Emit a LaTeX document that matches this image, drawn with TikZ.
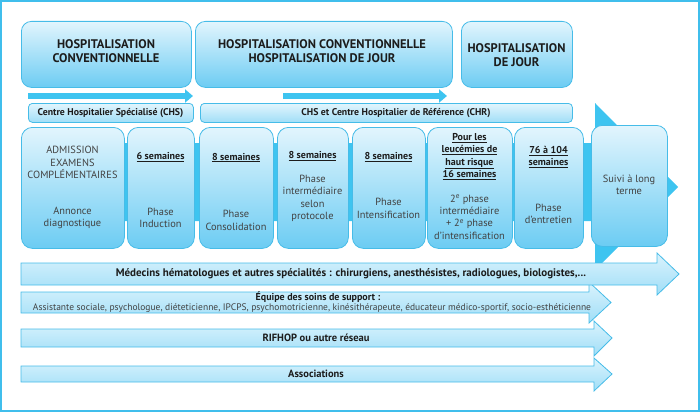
\documentclass[tikz,border=0pt]{standalone}
\usepackage{fontspec}
\setmainfont{PT Sans}
\usepackage{xcolor}
\usepackage{tikz}
\usetikzlibrary{
	arrows.meta,
	positioning
}
\definecolor{solidblue}{RGB}{62,196,240}
\definecolor{edgeblue}{RGB}{70,188,232}
\definecolor{framblue}{RGB}{64,190,236}
\definecolor{lightblue}{RGB}{226,245,253}
\definecolor{deepblue}{RGB}{108,204,243}
\definecolor{bandtop}{RGB}{218,243,253}
\definecolor{bandbot}{RGB}{160,222,247}
\definecolor{txtgrey}{RGB}{66,66,66}
\definecolor{txtdark}{RGB}{28,28,28}

\begin{document}
\begin{tikzpicture}[x=1pt, y=-1pt,
		hospbox/.style={draw=edgeblue, line width=0.8pt, rounded corners=10pt, top color=lightblue, bottom color=deepblue, anchor=north west, inner sep=0pt},
		phasebox/.style={hospbox, rounded corners=11pt, minimum height=121pt},
		sitebox/.style={hospbox, rounded corners=4pt, top color=lightblue, bottom color=bandbot, minimum height=19pt},
		band/.style={draw=edgeblue, line width=0.8pt, top color=bandtop, bottom color=bandbot},
		hosptxt/.style={font=\fontsize{12.5}{14.5}\selectfont\bfseries, text=txtdark, align=center, inner sep=0pt},
		sitetxt/.style={font=\fontsize{9.8}{11}\selectfont\bfseries, text=txtdark, inner sep=0pt},
		phasetxt/.style={font=\fontsize{10.4}{12.3}\selectfont, text=txtgrey, align=center, inner sep=0pt},
		phasehead/.style={phasetxt, font=\fontsize{10}{12.3}\selectfont\bfseries, text=txtdark},
		bandtxt/.style={font=\fontsize{10.5}{11}\selectfont\bfseries, text=txtdark, align=center, inner sep=0pt}
	]
		\useasboundingbox (0,0) rectangle (700,412);
		\draw[framblue, line width=2pt] (1,1) rectangle (699,411);
		
		\fill[solidblue] (30,143) -- (595,143) -- (595,103) -- (678,187) -- (595,270) -- (595,221) -- (30,221) -- cycle;
		
		\node[hospbox, minimum width=170pt, minimum height=66pt] (conv) at (21,21) {};
		\node[hosptxt] (convT) at (106,51) {HOSPITALISATION\\CONVENTIONNELLE};
		\node[hospbox, minimum width=257pt, minimum height=66pt] (mixt) at (195,21) {};
		\node[hosptxt] (mixtT) at (322,51) {HOSPITALISATION CONVENTIONNELLE\\HOSPITALISATION DE JOUR};
		\node[hospbox, minimum width=111pt, minimum height=66pt] (jour) at (461,21) {};
		\node[hosptxt] (jourT) at (516.5,55) {HOSPITALISATION\\DE JOUR};
		
		\coordinate (chsA) at (28,96);
		\coordinate (chsB) at (193,96);
		\coordinate (chrA) at (283,96);
		\coordinate (chrB) at (447,96);
		\draw[solidblue, line width=6pt, -{Triangle[length=8pt,width=13pt]}] (chsA) -- (chsB);
		\draw[solidblue, line width=6pt, -{Triangle[length=8pt,width=13pt]}] (chrA) -- (chrB);
		
		\node[sitebox, minimum width=165pt] (chs) at (28,103) {};
		\node[sitetxt] (chsT) at (110.5,113) {Centre Hospitalier Spécialisé (CHS)};
		\node[sitebox, minimum width=372pt] (chr) at (200,103) {};
		\node[sitetxt] (chrT) at (396,113) {CHS et Centre Hospitalier de Référence (CHR)};
		
		\node[phasebox, minimum width=103pt] (adm) at (21,127) {};
		\node[phasetxt] (admA) at (72.5,162.5) {ADMISSION\\EXAMENS\\COMPLÉMENTAIRES};
		\node[phasetxt] (admB) at (72.5,218) {Annonce\\diagnostique};
		
		\node[phasebox, minimum width=67pt] (ind) at (127,127) {};
		\node[phasehead] (indA) at (160.5,157) {\underline{6 semaines}};
		\node[phasetxt] (indB) at (160.5,218) {Phase\\Induction};
		
		\node[phasebox, minimum width=74pt] (cons) at (199,127) {};
		\node[phasehead] (consA) at (236,157.5) {\underline{8 semaines}};
		\node[phasetxt] (consB) at (236,220.5) {Phase\\Consolidation};
		
		\node[phasebox, minimum width=71pt] (inter) at (277,127) {};
		\node[phasehead] (interA) at (312.5,156) {\underline{8 semaines}};
		\node[phasetxt] (interB) at (312.5,198.5) {Phase\\intermédiaire\\selon\\protocole};
		
		\node[phasebox, minimum width=73pt] (intens) at (352,127) {};
		\node[phasehead] (intensA) at (388.5,157) {\underline{8 semaines}};
		\node[phasetxt] (intensB) at (388.5,208.5) {Phase\\Intensification};
		
		\node[phasebox, minimum width=85pt] (risk) at (427,127) {};
		\node[phasehead] (riskA) at (469.5,156.5) {\underline{Pour les}\\\underline{leucémies de}\\\underline{haut risque}\\\underline{16 semaines}};
		\node[phasetxt] (riskB) at (469.5,217) {2\textsuperscript{e} phase\\intermédiaire\\+ 2\textsuperscript{e} phase\\d’intensification};
		
		\node[phasebox, minimum width=69pt] (entr) at (514,127) {};
		\node[phasehead] (entrA) at (548.5,157) {\underline{76 à 104}\\\underline{semaines}};
		\node[phasetxt] (entrB) at (548.5,214) {Phase\\d’entretien};
		
		\node[phasebox, minimum width=76pt] (suivi) at (591,125) {};
		\node[phasetxt] (suiviT) at (629,185) {Suivi à long\\terme};
		
		\draw[band] (21,366) -- (594,366) -- (594,358) -- (612,374) -- (594,391) -- (594,382) -- (21,382) -- cycle;
		\node[bandtxt] (assoc) at (316,374) {Associations};
		\draw[band] (21,329) -- (594,329) -- (594,321) -- (612,338) -- (594,356) -- (594,347) -- (21,347) -- cycle;
		\node[bandtxt] (rifhop) at (316,337.5) {RIFHOP ou autre réseau};
		\draw[band] (21,292) -- (589,292) -- (589,282) -- (611,302.5) -- (589,323) -- (589,313) -- (21,313) -- cycle;
		\node[bandtxt, font=\fontsize{10}{11}\selectfont\bfseries] (supA) at (318,297.5) {Équipe des soins de support :};
		\node[bandtxt, font=\fontsize{9.5}{11}\selectfont, text=txtgrey] (supB) at (312,308) {Assistante sociale, psychologue, diéteticienne, IPCPS, psychomotricienne, kinésithérapeute, éducateur médico-sportif, socio-esthéticienne};
		\draw[band] (21,263) -- (657,263) -- (657,253) -- (679,274) -- (657,295) -- (657,285) -- (21,285) -- cycle;
		\node[bandtxt, font=\fontsize{11}{12}\selectfont\bfseries] (medec) at (351,274) {Médecins hématologues et autres spécialités : chirurgiens, anesthésistes, radiologues, biologistes,...};
	\end{tikzpicture}
\end{document}
